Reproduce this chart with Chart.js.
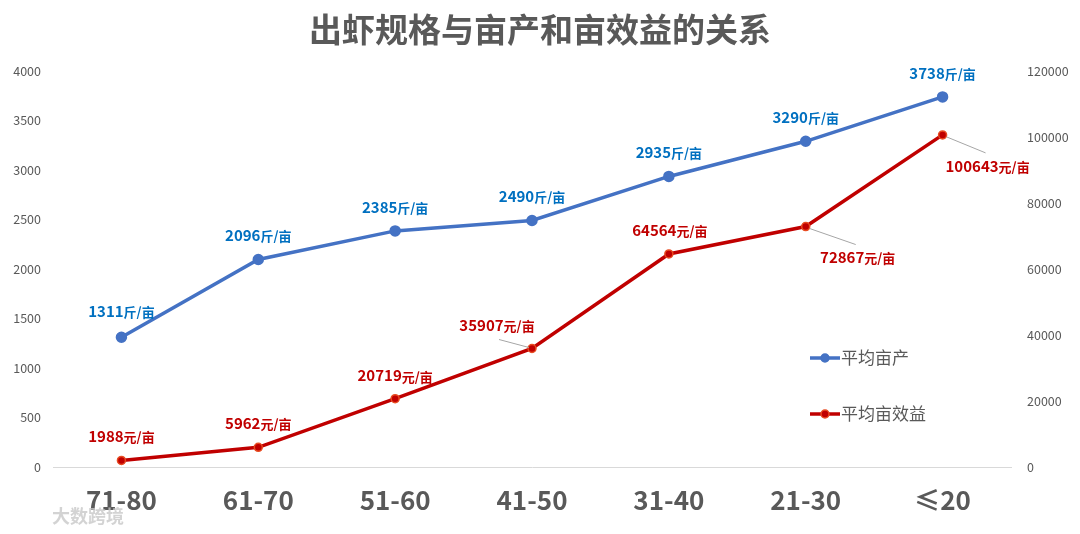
<!DOCTYPE html>
<html>
<head>
<meta charset="utf-8">
<script src="https://cdn.jsdelivr.net/npm/chart.js@4.4.0/dist/chart.umd.min.js"></script>
<style>
  html, body { margin: 0; padding: 0; background: #fff; }
  #wrap { width: 1080px; height: 534px; position: relative; }
</style>
</head>
<body>
<div id="wrap"><canvas id="c" width="1080" height="534"></canvas></div>
<script>
// 出虾规格（头/斤）
const categories = ['71-80', '61-70', '51-60', '41-50', '31-40', '21-30', '≤20'];
// 平均亩产（斤/亩）
const yieldValues = [1311, 2096, 2385, 2490, 2935, 3290, 3738];
// 平均亩效益（元/亩）
const profitValues = [1988, 5962, 20719, 35907, 64564, 72867, 100643];
const leftTicks = [0, 500, 1000, 1500, 2000, 2500, 3000, 3500, 4000];
const rightTicks = [0, 20000, 40000, 60000, 80000, 100000, 120000];

const FONT = '"Noto Sans CJK SC", "Noto Sans", sans-serif';
const BLUE = '#4472C4', BLUE_TXT = '#0070C0';
const RED = '#C00000', RED_TXT = '#C00000';

// 标签偏移（像素）：[dx, dy, 是否画引线]
const yieldLabelPos = [[0, -26], [0, -24], [0, -24], [0, -24], [0, -24], [0, -24], [0, -24]];
const profitLabelPos = [[0, -24], [0, -24], [0, -23], [-35, -23, true], [1, -24], [52, 31, true], [45, 31, true]];

const labelPlugin = {
  id: 'pointLabels',
  afterDatasetsDraw(chart) {
    const ctx = chart.ctx;
    const sets = [
      { idx: 0, vals: yieldValues, unit: '斤/亩', color: BLUE_TXT, pos: yieldLabelPos },
      { idx: 1, vals: profitValues, unit: '元/亩', color: RED_TXT, pos: profitLabelPos }
    ];
    ctx.save();
    sets.forEach(s => {
      const meta = chart.getDatasetMeta(s.idx);
      meta.data.forEach((pt, i) => {
        const [dx, dy, leader] = s.pos[i];
        const x = pt.x + dx, y = pt.y + dy;
        const num = String(s.vals[i]);
        ctx.font = 'bold 15px ' + FONT;
        const w1 = ctx.measureText(num).width;
        ctx.font = 'bold 13px ' + FONT;
        const w2 = ctx.measureText(s.unit).width;
        const left = x - (w1 + w2) / 2;
        if (leader) {
          ctx.strokeStyle = '#a6a6a6';
          ctx.lineWidth = 1;
          ctx.beginPath();
          if (dy < 0) {
            ctx.moveTo(x + 2, y + 14);
            ctx.lineTo(pt.x - 3, pt.y - 1);
          } else {
            ctx.moveTo(pt.x + 4, pt.y + 2);
            ctx.lineTo(x - 2, y - 13);
          }
          ctx.stroke();
        }
        ctx.fillStyle = s.color;
        ctx.textBaseline = 'middle';
        ctx.textAlign = 'left';
        ctx.font = 'bold 15px ' + FONT;
        ctx.fillText(num, left, y);
        ctx.font = 'bold 13px ' + FONT;
        ctx.fillText(s.unit, left + w1, y + 1);
      });
    });
    ctx.restore();
  }
};

const decorPlugin = {
  id: 'decor',
  afterDraw(chart) {
    const ctx = chart.ctx;
    ctx.save();
    // 标题
    ctx.fillStyle = '#595959';
    ctx.font = 'bold 33px ' + FONT;
    ctx.textAlign = 'center';
    ctx.textBaseline = 'middle';
    ctx.fillText('出虾规格与亩产和亩效益的关系', 540, 29);
    // 图例
    const items = [
      { text: '平均亩产', color: BLUE, border: BLUE, y: 358 },
      { text: '平均亩效益', color: RED, border: '#E84C22', y: 414 }
    ];
    items.forEach(it => {
      ctx.strokeStyle = it.color;
      ctx.lineWidth = 3.5;
      ctx.beginPath();
      ctx.moveTo(810, it.y);
      ctx.lineTo(840, it.y);
      ctx.stroke();
      ctx.beginPath();
      ctx.arc(825, it.y, 4, 0, Math.PI * 2);
      ctx.fillStyle = it.color;
      ctx.fill();
      ctx.lineWidth = 1.5;
      ctx.strokeStyle = it.border;
      ctx.stroke();
      ctx.fillStyle = '#595959';
      ctx.font = '17px ' + FONT;
      ctx.textAlign = 'left';
      ctx.fillText(it.text, 841, it.y);
    });
    // 水印
    ctx.fillStyle = 'rgba(200,200,200,0.8)';
    ctx.font = 'bold 18px ' + FONT;
    ctx.fillText('大数跨境', 52, 516);
    ctx.restore();
  }
};

new Chart(document.getElementById('c'), {
  type: 'line',
  data: {
    labels: categories,
    datasets: [
      {
        label: '平均亩产',
        data: yieldValues,
        yAxisID: 'y',
        borderColor: BLUE,
        backgroundColor: BLUE,
        borderWidth: 3.5,
        pointRadius: 4,
        pointBackgroundColor: BLUE,
        pointBorderColor: BLUE,
        tension: 0
      },
      {
        label: '平均亩效益',
        data: profitValues,
        yAxisID: 'y1',
        borderColor: RED,
        backgroundColor: RED,
        borderWidth: 3.5,
        pointRadius: 4,
        pointBackgroundColor: RED,
        pointBorderColor: '#E84C22',
        pointBorderWidth: 1.5,
        tension: 0
      }
    ]
  },
  options: {
    responsive: false,
    animation: false,
    layout: { padding: { top: 71, left: 0, right: 0, bottom: 0 } },
    plugins: {
      legend: { display: false },
      title: { display: false },
      tooltip: { enabled: false }
    },
    scales: {
      x: {
        offset: true,
        grid: { display: false },
        border: { color: '#d9d9d9', width: 1 },
        ticks: { color: '#595959', font: { family: FONT, size: 26, weight: 'bold' }, padding: 10 },
        afterFit(s) { s.height = 67; }
      },
      y: {
        position: 'left',
        min: 0, max: 4000,
        afterBuildTicks(s) { s.ticks = leftTicks.map(v => ({ value: v })); },
        grid: { display: false },
        border: { display: false },
        ticks: { color: '#595959', font: { family: FONT, size: 12.5 }, padding: 4, callback: v => String(v) },
        afterFit(s) { s.width = 53; }
      },
      y1: {
        position: 'right',
        min: 0, max: 120000,
        afterBuildTicks(s) { s.ticks = rightTicks.map(v => ({ value: v })); },
        grid: { display: false },
        border: { display: false },
        ticks: { color: '#595959', font: { family: FONT, size: 12.5 }, padding: 8, callback: v => String(v) },
        afterFit(s) { s.width = 69; }
      }
    }
  },
  plugins: [labelPlugin, decorPlugin]
});
</script>
</body>
</html>
